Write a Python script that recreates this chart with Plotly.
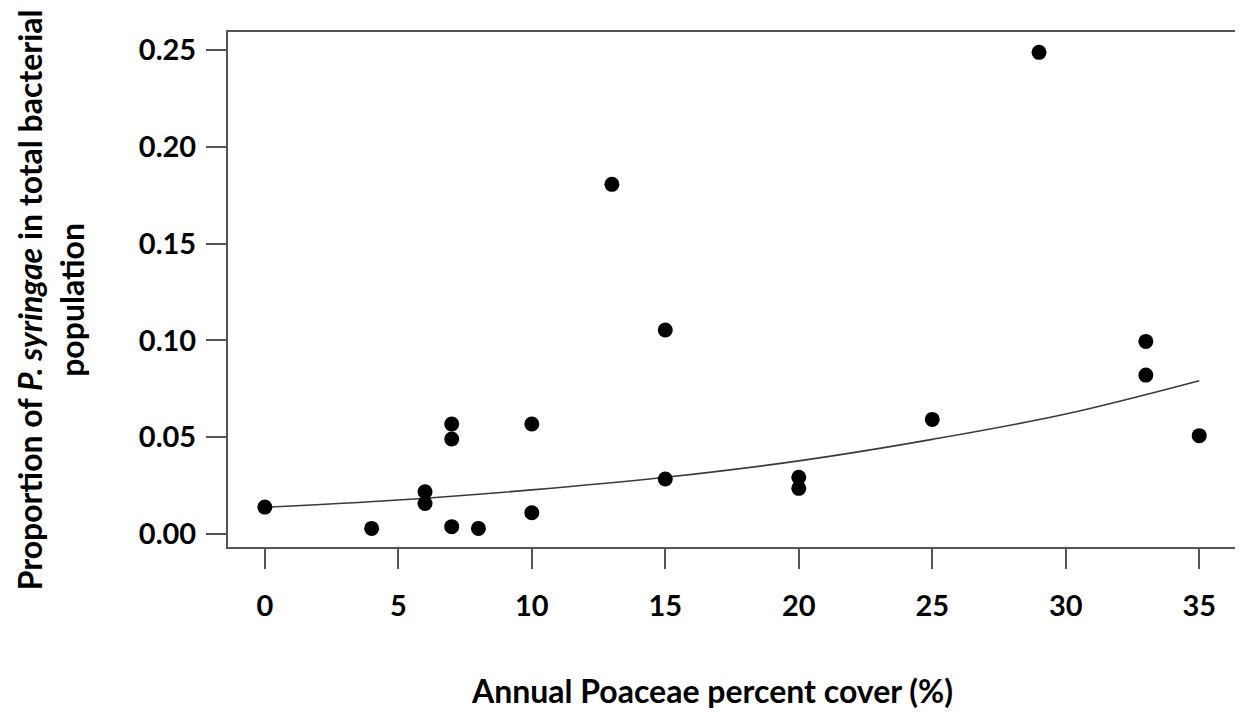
import plotly.graph_objects as go

# Observed points: Annual Poaceae percent cover (%) vs proportion of P. syringae
cover = [0, 4, 6, 6, 7, 7, 7, 8, 10, 10, 13, 15, 15, 20, 20, 25, 29, 33, 33, 35]
proportion = [0.0139, 0.0029, 0.0218, 0.0158, 0.0568, 0.0491, 0.0038, 0.0029,
              0.0568, 0.0110, 0.1806, 0.1054, 0.0284, 0.0293, 0.0236, 0.0592,
              0.2488, 0.0995, 0.0821, 0.0508]

# Fitted curve
fit_x = [0, 5, 10, 15, 20, 25, 30, 35]
fit_y = [0.0138, 0.0176, 0.0228, 0.0293, 0.0378, 0.0489, 0.0620, 0.0792]

x_ticks = [0, 5, 10, 15, 20, 25, 30, 35]
y_ticks = [0.00, 0.05, 0.10, 0.15, 0.20, 0.25]

FONT = "Lato"
axis_col = "#555555"
TICK_SIZE = 29
TITLE_SIZE = 32

# page has an 8px body margin; figure is sized to fit inside the window
W, H = 1235, 705
L, R, T, B = 220, 6, 24, 166
pw, ph = W - L - R, H - T - B

fig = go.Figure()
fig.add_trace(go.Scatter(x=fit_x, y=fit_y, mode="lines",
                         line=dict(color="#3a3a3a", width=1.6, shape="spline"),
                         hoverinfo="skip", showlegend=False))
fig.add_trace(go.Scatter(x=cover, y=proportion, mode="markers",
                         marker=dict(color="black", size=15),
                         showlegend=False))

fig.update_layout(
    width=W, height=H,
    margin=dict(l=L, r=R, t=T, b=B),
    paper_bgcolor="white", plot_bgcolor="white",
    font=dict(family=FONT, size=TICK_SIZE, color="black", weight="bold"),
    xaxis=dict(range=[-1.38, 36.34], tickvals=x_ticks,
               ticktext=[str(v) for v in x_ticks],
               showgrid=False, zeroline=False,
               showline=True, mirror=True, linecolor=axis_col, linewidth=2,
               ticks="outside", ticklen=20, tickwidth=2, tickcolor=axis_col,
               ticklabelstandoff=12,
               tickfont=dict(family=FONT, size=TICK_SIZE, color="black", weight="bold")),
    yaxis=dict(range=[-0.0067, 0.2593], tickvals=y_ticks,
               ticktext=["%.2f" % v for v in y_ticks],
               showgrid=False, zeroline=False,
               showline=True, mirror=True, linecolor=axis_col, linewidth=2,
               ticks="outside", ticklen=20, tickwidth=2, tickcolor=axis_col,
               ticklabelstandoff=4,
               tickfont=dict(family=FONT, size=TICK_SIZE, color="black", weight="bold")),
    annotations=[
        dict(text="Annual Poaceae percent cover (%)", xref="paper", yref="paper",
             x=(705 - L) / pw, y=-(682 - (H - B)) / ph,
             xanchor="center", yanchor="middle", showarrow=False,
             font=dict(family=FONT, size=TITLE_SIZE, color="black", weight="bold")),
        dict(text="Proportion of <i>P. syringae</i> in total bacterial<br>population",
             xref="paper", yref="paper",
             x=-(L - 42) / pw, y=((H - B) - 292) / ph,
             xanchor="center", yanchor="middle", textangle=-90, showarrow=False,
             align="center",
             font=dict(family=FONT, size=TITLE_SIZE, color="black", weight="bold")),
    ],
)

fig.write_html("out.html")
